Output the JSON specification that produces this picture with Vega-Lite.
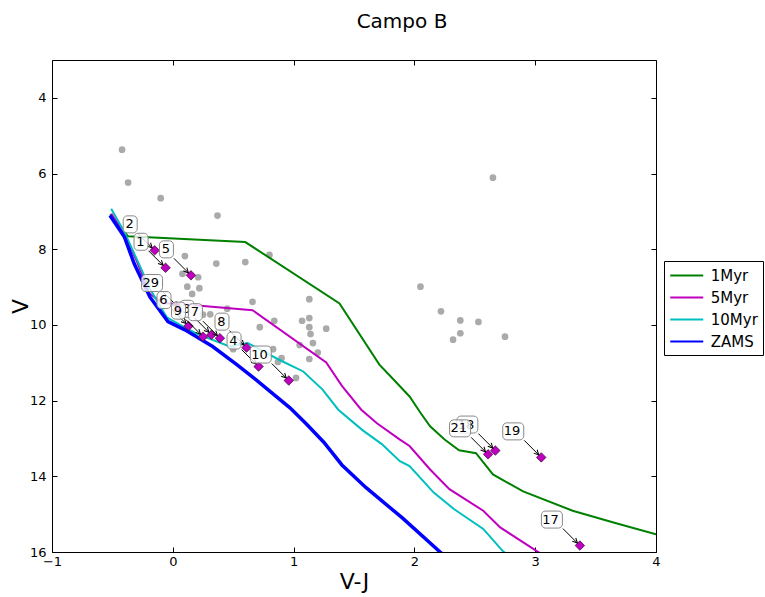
{
  "$schema": "https://vega.github.io/schema/vega-lite/v6.json",
  "width": 604,
  "height": 492,
  "autosize": {"type": "none"},
  "padding": {"left": 52, "top": 60, "right": 109, "bottom": 45},
  "background": "white",
  "title": {"text": "Campo B", "fontSize": 20, "font": "DejaVu Sans", "fontWeight": "normal", "color": "#000", "offset": 28, "dx": 48},
  "config": {
    "view": {"stroke": "#000", "strokeWidth": 1},
    "font": "DejaVu Sans",
    "axis": {"domain": false, "grid": false, "tickColor": "#000", "labelColor": "#000", "labelFont": "DejaVu Sans", "labelFontSize": 13, "tickSize": -5, "labelFlush": false, "labelOverlap": false, "titleFont": "DejaVu Sans", "titleFontWeight": "normal", "titleFontSize": 22, "titleColor": "#000"}
  },
  "datasets": {
    "stars": [
      {"VJ": -0.42, "V": 5.37}, {"VJ": -0.37, "V": 6.24}, {"VJ": -0.10, "V": 6.65}, {"VJ": 0.37, "V": 7.11},
      {"VJ": 0.10, "V": 8.18}, {"VJ": 0.36, "V": 8.38}, {"VJ": 0.60, "V": 8.34}, {"VJ": 0.80, "V": 8.15},
      {"VJ": 0.08, "V": 8.65}, {"VJ": 0.21, "V": 8.74}, {"VJ": 0.12, "V": 8.99}, {"VJ": 0.22, "V": 9.03},
      {"VJ": 0.16, "V": 9.18}, {"VJ": 0.66, "V": 9.39}, {"VJ": 1.13, "V": 9.32}, {"VJ": 0.84, "V": 9.89},
      {"VJ": 1.07, "V": 9.89}, {"VJ": 1.13, "V": 9.82}, {"VJ": 1.13, "V": 10.06}, {"VJ": 1.27, "V": 10.10},
      {"VJ": 0.72, "V": 10.06}, {"VJ": 1.14, "V": 10.24}, {"VJ": 1.16, "V": 10.48}, {"VJ": 1.20, "V": 10.73},
      {"VJ": 1.13, "V": 10.90}, {"VJ": 1.05, "V": 10.53}, {"VJ": 0.45, "V": 9.57}, {"VJ": 0.31, "V": 9.72},
      {"VJ": 0.25, "V": 9.73}, {"VJ": 0.50, "V": 10.64}, {"VJ": 0.90, "V": 10.88}, {"VJ": 0.87, "V": 10.98},
      {"VJ": 0.83, "V": 10.64}, {"VJ": 1.02, "V": 11.40}, {"VJ": 2.05, "V": 8.99}, {"VJ": 2.22, "V": 9.64},
      {"VJ": 2.38, "V": 9.88}, {"VJ": 2.53, "V": 9.92}, {"VJ": 2.38, "V": 10.22}, {"VJ": 2.32, "V": 10.39},
      {"VJ": 2.75, "V": 10.31}, {"VJ": 2.65, "V": 6.11}
    ],
    "targets": [
      {"label": "1", "VJ": -0.06, "V": 8.49},
      {"label": "2", "VJ": -0.15, "V": 8.03},
      {"label": "3", "VJ": 0.32, "V": 10.26},
      {"label": "4", "VJ": 0.71, "V": 11.10},
      {"label": "5", "VJ": 0.15, "V": 8.69},
      {"label": "6", "VJ": 0.13, "V": 10.03},
      {"label": "7", "VJ": 0.39, "V": 10.35},
      {"label": "8", "VJ": 0.61, "V": 10.60},
      {"label": "9", "VJ": 0.25, "V": 10.31},
      {"label": "10", "VJ": 0.96, "V": 11.47},
      {"label": "17", "VJ": 3.37, "V": 15.83},
      {"label": "18", "VJ": 2.67, "V": 13.32},
      {"label": "19", "VJ": 3.05, "V": 13.50},
      {"label": "21", "VJ": 2.61, "V": 13.42},
      {"label": "29", "VJ": 0.06, "V": 9.58}
    ],
    "curves": [
      {"Series": "1Myr", "VJ": -0.52, "V": 7.08}, {"Series": "1Myr", "VJ": -0.37, "V": 7.66}, {"Series": "1Myr", "VJ": 0.60, "V": 7.81},
      {"Series": "1Myr", "VJ": 1.38, "V": 9.43}, {"Series": "1Myr", "VJ": 1.71, "V": 11.05}, {"Series": "1Myr", "VJ": 1.80, "V": 11.35},
      {"Series": "1Myr", "VJ": 1.88, "V": 11.62}, {"Series": "1Myr", "VJ": 1.96, "V": 11.89}, {"Series": "1Myr", "VJ": 2.05, "V": 12.32},
      {"Series": "1Myr", "VJ": 2.13, "V": 12.68}, {"Series": "1Myr", "VJ": 2.25, "V": 13.03}, {"Series": "1Myr", "VJ": 2.37, "V": 13.31},
      {"Series": "1Myr", "VJ": 2.51, "V": 13.39}, {"Series": "1Myr", "VJ": 2.65, "V": 13.95}, {"Series": "1Myr", "VJ": 2.90, "V": 14.40},
      {"Series": "1Myr", "VJ": 3.31, "V": 14.91}, {"Series": "1Myr", "VJ": 3.67, "V": 15.24}, {"Series": "1Myr", "VJ": 4.00, "V": 15.53},
      {"Series": "1Myr", "VJ": 4.20, "V": 15.70},
      {"Series": "5Myr", "VJ": -0.51, "V": 7.06}, {"Series": "5Myr", "VJ": -0.40, "V": 7.60}, {"Series": "5Myr", "VJ": -0.30, "V": 8.30},
      {"Series": "5Myr", "VJ": -0.19, "V": 9.18}, {"Series": "5Myr", "VJ": -0.08, "V": 9.43}, {"Series": "5Myr", "VJ": 0.06, "V": 9.45},
      {"Series": "5Myr", "VJ": 0.66, "V": 9.61}, {"Series": "5Myr", "VJ": 1.27, "V": 10.99}, {"Series": "5Myr", "VJ": 1.40, "V": 11.61},
      {"Series": "5Myr", "VJ": 1.56, "V": 12.24}, {"Series": "5Myr", "VJ": 1.69, "V": 12.60}, {"Series": "5Myr", "VJ": 1.88, "V": 13.03},
      {"Series": "5Myr", "VJ": 1.96, "V": 13.20}, {"Series": "5Myr", "VJ": 2.13, "V": 13.82}, {"Series": "5Myr", "VJ": 2.29, "V": 14.34},
      {"Series": "5Myr", "VJ": 2.57, "V": 14.91}, {"Series": "5Myr", "VJ": 2.71, "V": 15.35}, {"Series": "5Myr", "VJ": 3.01, "V": 15.97},
      {"Series": "5Myr", "VJ": 3.05, "V": 16.05},
      {"Series": "10Myr", "VJ": -0.51, "V": 6.93}, {"Series": "10Myr", "VJ": -0.40, "V": 7.55}, {"Series": "10Myr", "VJ": -0.30, "V": 8.25},
      {"Series": "10Myr", "VJ": -0.18, "V": 9.10}, {"Series": "10Myr", "VJ": -0.05, "V": 9.80}, {"Series": "10Myr", "VJ": 0.06, "V": 10.00},
      {"Series": "10Myr", "VJ": 0.19, "V": 10.22}, {"Series": "10Myr", "VJ": 0.47, "V": 10.57}, {"Series": "10Myr", "VJ": 0.62, "V": 10.48},
      {"Series": "10Myr", "VJ": 0.88, "V": 10.92}, {"Series": "10Myr", "VJ": 1.08, "V": 11.23}, {"Series": "10Myr", "VJ": 1.24, "V": 11.71},
      {"Series": "10Myr", "VJ": 1.37, "V": 12.24}, {"Series": "10Myr", "VJ": 1.57, "V": 12.78}, {"Series": "10Myr", "VJ": 1.73, "V": 13.15},
      {"Series": "10Myr", "VJ": 1.88, "V": 13.60}, {"Series": "10Myr", "VJ": 1.96, "V": 13.73}, {"Series": "10Myr", "VJ": 2.16, "V": 14.43},
      {"Series": "10Myr", "VJ": 2.33, "V": 14.87}, {"Series": "10Myr", "VJ": 2.57, "V": 15.39}, {"Series": "10Myr", "VJ": 2.73, "V": 15.97},
      {"Series": "10Myr", "VJ": 2.76, "V": 16.05},
      {"Series": "ZAMS", "VJ": -0.52, "V": 7.11}, {"Series": "ZAMS", "VJ": -0.40, "V": 7.68}, {"Series": "ZAMS", "VJ": -0.32, "V": 8.38},
      {"Series": "ZAMS", "VJ": -0.19, "V": 9.26}, {"Series": "ZAMS", "VJ": -0.04, "V": 9.91}, {"Series": "ZAMS", "VJ": 0.10, "V": 10.13},
      {"Series": "ZAMS", "VJ": 0.33, "V": 10.57}, {"Series": "ZAMS", "VJ": 0.53, "V": 11.05}, {"Series": "ZAMS", "VJ": 0.69, "V": 11.45},
      {"Series": "ZAMS", "VJ": 0.83, "V": 11.82}, {"Series": "ZAMS", "VJ": 0.97, "V": 12.19}, {"Series": "ZAMS", "VJ": 1.10, "V": 12.60},
      {"Series": "ZAMS", "VJ": 1.25, "V": 13.10}, {"Series": "ZAMS", "VJ": 1.40, "V": 13.70}, {"Series": "ZAMS", "VJ": 1.60, "V": 14.30},
      {"Series": "ZAMS", "VJ": 1.90, "V": 15.10}, {"Series": "ZAMS", "VJ": 2.23, "V": 16.05}
    ]
  },
  "encoding": {
    "x": {"field": "VJ", "type": "quantitative", "scale": {"domain": [-1, 4], "nice": false, "zero": false}, "axis": null},
    "y": {"field": "V", "type": "quantitative", "scale": {"domain": [3, 16], "nice": false, "zero": false, "reverse": true}, "axis": null}
  },
  "layer": [
    {
      "data": {"name": "stars"},
      "mark": {"type": "circle", "size": 45, "color": "#aaaaaa", "opacity": 1},
      "encoding": {
        "x": {"field": "VJ", "type": "quantitative", "scale": {"domain": [-1, 4], "nice": false, "zero": false},
              "axis": {"orient": "bottom", "values": [-1, 0, 1, 2, 3, 4], "title": "V-J", "labelPadding": 8, "titleX": 302, "titleY": 29, "titleBaseline": "middle", "titleAlign": "center"}},
        "y": {"field": "V", "type": "quantitative", "scale": {"domain": [3, 16], "nice": false, "zero": false, "reverse": true},
              "axis": {"orient": "left", "values": [4, 6, 8, 10, 12, 14, 16], "title": "V", "labelPadding": 11, "titleX": -32, "titleY": 246, "titleAngle": -90, "titleBaseline": "middle", "titleAlign": "center"}}
      }
    },
    {
      "data": {"name": "curves"},
      "mark": {"type": "line", "clip": true},
      "encoding": {
        "x": {"field": "VJ", "type": "quantitative", "scale": {"domain": [-1, 4], "nice": false, "zero": false},
              "axis": {"orient": "top", "values": [-1, 0, 1, 2, 3, 4], "labels": false, "title": null}},
        "y": {"field": "V", "type": "quantitative", "scale": {"domain": [3, 16], "nice": false, "zero": false, "reverse": true},
              "axis": {"orient": "right", "values": [4, 6, 8, 10, 12, 14, 16], "labels": false, "title": null}},
        "color": {"field": "Series", "type": "nominal",
                  "scale": {"domain": ["1Myr", "5Myr", "10Myr", "ZAMS"], "range": ["#008000", "#bf00bf", "#00bfbf", "#0000ff"]},
                  "legend": {"orient": "none", "legendX": 612, "legendY": 201, "title": null, "strokeColor": "#000", "fillColor": "#fff",
                             "padding": 5, "symbolType": "M-2,0L2,0", "symbolSize": 272, "symbolOffset": 8.25, "symbolStrokeWidth": 2, "labelFontSize": 15,
                             "labelFont": "DejaVu Sans", "labelColor": "#000", "rowPadding": 4, "labelOffset": 14.5, "cornerRadius": 0}},
        "strokeWidth": {"condition": {"test": "datum.Series == 'ZAMS'", "value": 3.5}, "value": 2}
      }
    },
    {
      "data": {"name": "targets"},
      "mark": {"type": "point", "shape": "diamond", "filled": true, "color": "#bf00bf", "stroke": "#3a003a", "strokeWidth": 0.7, "size": 90, "opacity": 1}
    },
    {
      "data": {"name": "targets"},
      "mark": {"type": "rule", "color": "#000", "strokeWidth": 1, "xOffset": -3, "yOffset": -3, "x2Offset": -17, "y2Offset": -17},
      "encoding": {"x2": {"field": "VJ"}, "y2": {"field": "V"}}
    },
    {
      "data": {"name": "targets"},
      "mark": {"type": "point", "shape": "M-0.6,1.2L0,0L0.6,1.2", "filled": false, "stroke": "#000", "strokeWidth": 1, "size": 64, "angle": 136, "opacity": 1, "xOffset": -2.5, "yOffset": -2.5}
    },
    {
      "data": {"name": "targets"},
      "transform": [{"filter": "length(datum.label) == 1 && indexof(['7','9'], datum.label) < 0"}],
      "mark": {"type": "rect", "xOffset": -31.5, "x2Offset": -17.5, "yOffset": -34.5, "y2Offset": -17.5, "fill": "#fff", "fillOpacity": 0.8, "stroke": "#888", "strokeWidth": 1, "cornerRadius": 4},
      "encoding": {"x2": {"field": "VJ"}, "y2": {"field": "V"}}
    },
    {
      "data": {"name": "targets"},
      "transform": [{"filter": "length(datum.label) == 2 && datum.label != '21'"}],
      "mark": {"type": "rect", "xOffset": -38.5, "x2Offset": -17.5, "yOffset": -34.5, "y2Offset": -17.5, "fill": "#fff", "fillOpacity": 0.8, "stroke": "#888", "strokeWidth": 1, "cornerRadius": 4},
      "encoding": {"x2": {"field": "VJ"}, "y2": {"field": "V"}}
    },
    {
      "data": {"name": "targets"},
      "transform": [{"filter": "indexof(['7','9','21'], datum.label) < 0"}],
      "mark": {"type": "text", "align": "right", "baseline": "middle", "dx": -21, "dy": -26, "fontSize": 13, "font": "DejaVu Sans", "color": "#000"},
      "encoding": {"text": {"field": "label"}}
    },
    {
      "data": {"name": "targets"},
      "transform": [{"filter": "datum.label == '7' || datum.label == '9'"}],
      "mark": {"type": "rect", "xOffset": -31.5, "x2Offset": -17.5, "yOffset": -34.5, "y2Offset": -17.5, "fill": "#fff", "fillOpacity": 0.8, "stroke": "#888", "strokeWidth": 1, "cornerRadius": 4},
      "encoding": {"x2": {"field": "VJ"}, "y2": {"field": "V"}}
    },
    {
      "data": {"name": "targets"},
      "transform": [{"filter": "datum.label == '21'"}],
      "mark": {"type": "rect", "xOffset": -38.5, "x2Offset": -17.5, "yOffset": -34.5, "y2Offset": -17.5, "fill": "#fff", "fillOpacity": 0.8, "stroke": "#888", "strokeWidth": 1, "cornerRadius": 4},
      "encoding": {"x2": {"field": "VJ"}, "y2": {"field": "V"}}
    },
    {
      "data": {"name": "targets"},
      "transform": [{"filter": "indexof(['7','9','21'], datum.label) >= 0"}],
      "mark": {"type": "text", "align": "right", "baseline": "middle", "dx": -21, "dy": -26, "fontSize": 13, "font": "DejaVu Sans", "color": "#000"},
      "encoding": {"text": {"field": "label"}}
    }
  ],
  "resolve": {"axis": {"x": "independent", "y": "independent"}}
}
